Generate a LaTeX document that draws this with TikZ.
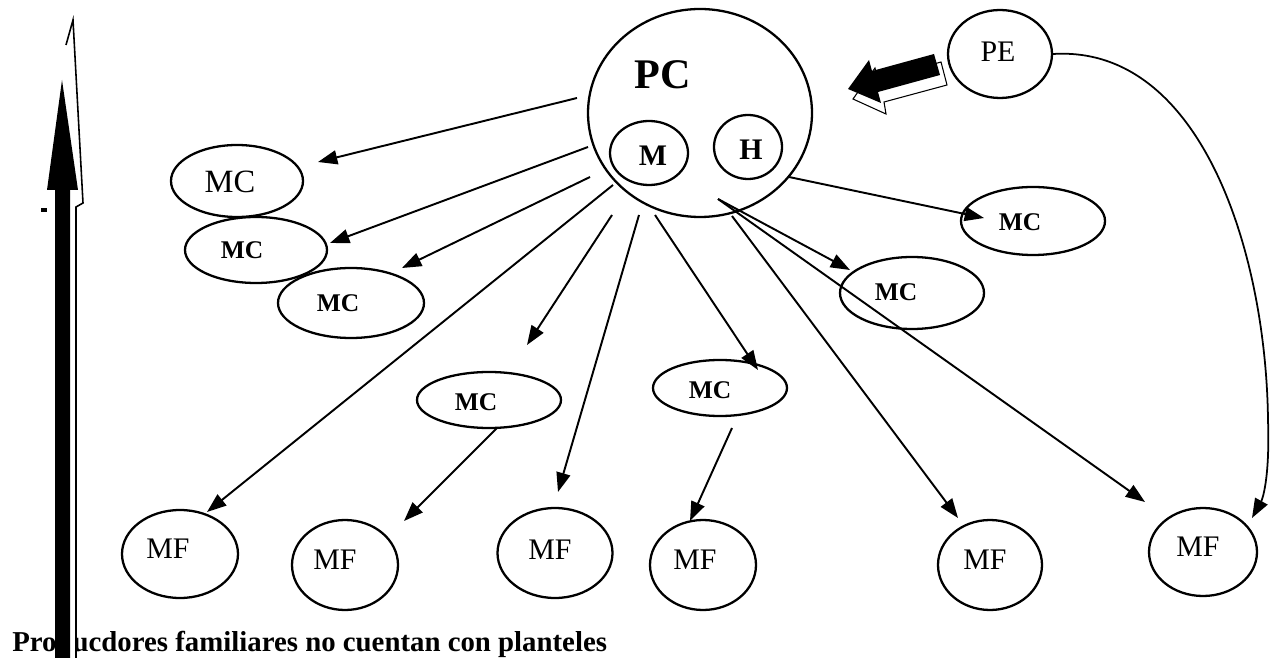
\documentclass[tikz,border=0pt]{standalone}
\usepackage{fontspec}
\setmainfont{Liberation Serif}
\usetikzlibrary{shapes.geometric,arrows.meta}
\newlength\pxl
\setlength\pxl{0.02cm}
\tikzset{
  ell/.style={ellipse, draw, line width=1.3pt, inner sep=0pt},
  conn/.style={line width=1.1pt, -{Triangle[length=11pt,width=8pt]}},
  txtpc/.style={inner sep=0pt, font=\fontsize{24pt}{24pt}\selectfont\bfseries},
  txtmh/.style={inner sep=0pt, font=\fontsize{17pt}{17pt}\selectfont\bfseries},
  txtreg/.style={inner sep=0pt, font=\fontsize{17pt}{17pt}\selectfont},
  txtmcbig/.style={inner sep=0pt, font=\fontsize{18.5pt}{18.5pt}\selectfont},
  txtmc/.style={inner sep=0pt, font=\fontsize{14.5pt}{14.5pt}\selectfont\bfseries},
  txtfoot/.style={inner sep=0pt, anchor=base west, font=\fontsize{16.4pt}{16.4pt}\selectfont\bfseries},
  blockshadow/.style={fill=white, draw=black, line width=0.6pt},
}
\begin{document}
\begin{tikzpicture}[x=0.02cm, y=-0.02cm]
\useasboundingbox (0,0) rectangle (1278,658);

% ---- nodes ----
\node[ell, minimum width=224\pxl, minimum height=208\pxl] (PC) at (700,113) {};
\node[txtpc] (PCt) at (663,75) {PC};
\node[ell, minimum width=78\pxl, minimum height=64\pxl] (M) at (649,153) {};
\node[txtmh] (Mt) at (653,156) {M};
\node[ell, minimum width=68\pxl, minimum height=64\pxl] (H) at (748,147) {};
\node[txtmh] (Ht) at (751,150) {H};
\node[ell, minimum width=104\pxl, minimum height=88\pxl] (PE) at (1000,54) {};
\node[txtreg] (PEt) at (998,52) {PE};

\node[ell, minimum width=132\pxl, minimum height=72\pxl] (mc1) at (237,181) {};
\node[txtmcbig] (mc1t) at (230,182) {MC};
\node[ell, minimum width=142\pxl, minimum height=66\pxl] (mc2) at (256,250) {};
\node[txtmc] (mc2t) at (242,250) {MC};
\node[ell, minimum width=146\pxl, minimum height=70\pxl] (mc3) at (351,303) {};
\node[txtmc] (mc3t) at (338,303) {MC};
\node[ell, minimum width=144\pxl, minimum height=56\pxl] (mc4) at (489,400) {};
\node[txtmc] (mc4t) at (476,402) {MC};
\node[ell, minimum width=134\pxl, minimum height=56\pxl] (mc5) at (720,388) {};
\node[txtmc] (mc5t) at (710,390) {MC};
\node[ell, minimum width=144\pxl, minimum height=68\pxl] (mc6) at (1033,221) {};
\node[txtmc] (mc6t) at (1020,222) {MC};
\node[ell, minimum width=144\pxl, minimum height=72\pxl] (mc7) at (912,293) {};
\node[txtmc] (mc7t) at (896,292) {MC};

\node[ell, minimum width=116\pxl, minimum height=88\pxl] (mf1) at (180,554) {};
\node[txtreg] (mf1t) at (168,549) {MF};
\node[ell, minimum width=106\pxl, minimum height=90\pxl] (mf2) at (345,565) {};
\node[txtreg] (mf2t) at (335,560) {MF};
\node[ell, minimum width=115\pxl, minimum height=90\pxl] (mf3) at (555,553) {};
\node[txtreg] (mf3t) at (550,550) {MF};
\node[ell, minimum width=106\pxl, minimum height=90\pxl] (mf4) at (703,565) {};
\node[txtreg] (mf4t) at (695,560) {MF};
\node[ell, minimum width=104\pxl, minimum height=90\pxl] (mf5) at (990,565) {};
\node[txtreg] (mf5t) at (985,560) {MF};
\node[ell, minimum width=108\pxl, minimum height=88\pxl] (mf6) at (1203,552) {};
\node[txtreg] (mf6t) at (1198,547) {MF};

% ---- connector end points ----
\coordinate (s1) at (577,98);   \coordinate (t1) at (318,162);
\coordinate (s2) at (588,147);  \coordinate (t2) at (330,243);
\coordinate (s3) at (590,177);  \coordinate (t3) at (402,268);
\coordinate (s4) at (613,185);  \coordinate (t4) at (207,512);
\coordinate (s5) at (612,215);  \coordinate (t5) at (527,345);
\coordinate (s6) at (639,215);  \coordinate (t6) at (558,492);
\coordinate (s7) at (655,215);  \coordinate (t7) at (758,370);
\coordinate (s8) at (732,216);  \coordinate (t8) at (958,518);
\coordinate (s9) at (718,199);  \coordinate (t9) at (850,270);
\coordinate (t10) at (1145,502);
\coordinate (s11) at (789,177); \coordinate (t11) at (984,218);
\coordinate (s12) at (497,428); \coordinate (t12) at (404,521);
\coordinate (s13) at (732,428); \coordinate (t13) at (690,521);
\coordinate (t14) at (1252,518);

\draw[conn] (s1) -- (t1);
\draw[conn] (s2) -- (t2);
\draw[conn] (s3) -- (t3);
\draw[conn] (s4) -- (t4);
\draw[conn] (s5) -- (t5);
\draw[conn] (s6) -- (t6);
\draw[conn] (s7) -- (t7);
\draw[conn] (s8) -- (t8);
\draw[conn] (s9) -- (t9);
\draw[conn] (s9) -- (t10);
\draw[conn] (s11) -- (t11);
\draw[conn] (s12) -- (t12);
\draw[conn] (s13) -- (t13);
\draw[conn, line width=1pt] (PE.east) .. controls (1200,45) and (1266,250) .. (1268,420)
   .. controls (1270,480) and (1262,500) .. (t14);

% ---- block arrow PE -> PC ----
\fill[blockshadow] (853,99) -- (875,68) -- (878,80) -- (941,62) -- (947,85) -- (884,102) -- (886,114) -- cycle;
\fill[black] (848,89) -- (869,60) -- (872,71) -- (934,54) -- (940,75) -- (878,92) -- (881,103) -- cycle;

% ---- bottom caption ----
\node[txtfoot] (foot) at (12,651) {Producdores familiares no cuentan con planteles};

% ---- big vertical arrow ----
\fill[white] (58,200) rectangle (76,658);
\draw[line width=0.9pt] (66,45) -- (73,20) -- (83,203) -- (76,207) -- (76,658);
\fill[black] (62,80) -- (78,190) -- (70,190) -- (70,658) -- (55,658) -- (55,190) -- (47,190) -- cycle;
\fill[black] (41,208) rectangle (47,212);
\end{tikzpicture}
\end{document}
